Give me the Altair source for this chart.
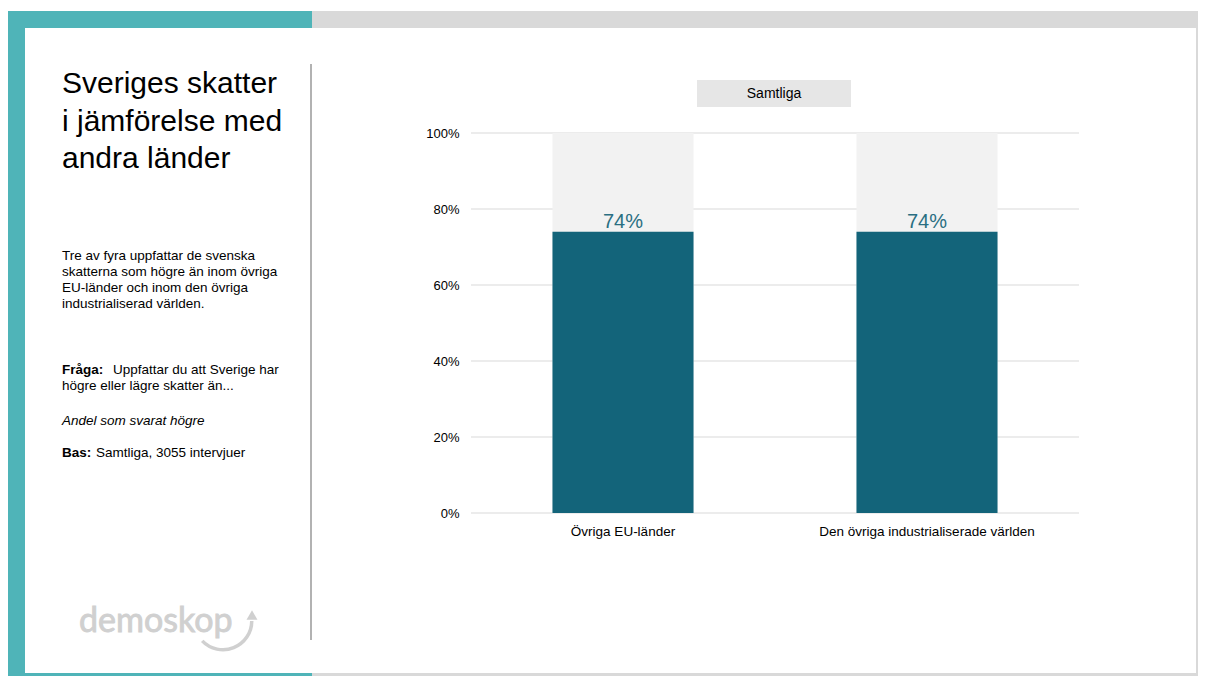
import altair as alt
import pandas as pd

# ---------------- data ----------------
categories = ["Övriga EU-länder", "Den övriga industrialiserade världen"]
values = [0.74, 0.74]
totals = [1.0, 1.0]
value_labels = ["74%", "74%"]
y_ticks = [0.0, 0.2, 0.4, 0.6, 0.8, 1.0]
panel_title = "Samtliga"

title_lines = ["Sveriges skatter", "i jämförelse med", "andra länder"]
body_lines = [
    "Tre av fyra uppfattar de svenska",
    "skatterna som högre än inom övriga",
    "EU-länder och inom den övriga",
    "industrialiserad världen.",
]
question_label = "Fråga:"
question_lines = ["Uppfattar du att Sverige har", "högre eller lägre skatter än..."]
share_text = "Andel som svarat högre"
base_label = "Bas:"
base_text = "Samtliga, 3055 intervjuer"
logo_text = "demoskop"

# ---------------- layout helpers (page px -> plot px) ----------------
PLOT_X0, PLOT_Y0 = 471, 133
PLOT_W, PLOT_H = 608, 380
CANVAS_W, CANVAS_H = 1190, 668


def px(x):
    return x - PLOT_X0


def py(y):
    return y - PLOT_Y0


FONT = "Liberation Sans"
one = pd.DataFrame({"d": [1]})

bars = pd.DataFrame({"kategori": categories, "andel": values, "total": totals, "etikett": value_labels})
ticks = pd.DataFrame({"t": y_ticks})


def rect(x1, x2, y1, y2, color):
    return alt.Chart(one).mark_rect(color=color).encode(
        x=alt.value(px(x1)), x2=alt.value(px(x2)), y=alt.value(py(y1)), y2=alt.value(py(y2))
    )


def text(x, y, t, size, **kw):
    return alt.Chart(one).mark_text(
        text=t, fontSize=size, font=kw.pop("font", FONT), align=kw.pop("align", "left"),
        baseline=kw.pop("baseline", "alphabetic"), **kw
    ).encode(x=alt.value(px(x)), y=alt.value(py(y)))


# frame
bg_grey = rect(7, 1206, 11, 684, "#d9d9d9")
bg_teal = rect(7, 312, 11, 684, "#4fb4b8")
bg_white = rect(25, 1196, 28, 673, "#ffffff")
separator = alt.Chart(one).mark_rule(color="#7f7f7f", strokeWidth=1.2).encode(
    x=alt.value(px(311)), y=alt.value(py(64)), y2=alt.value(py(640))
)

# panel header
header_box = rect(697, 851, 80, 107, "#e6e6e6")
header_txt = text(774, 94, panel_title, 14, align="center", baseline="middle", color="#000000")

# chart
xscale = alt.Scale(domain=categories, paddingInner=0.536, paddingOuter=0.268)
yscale = alt.Scale(domain=[0, 1])
xax = alt.Axis(title=None, labelAngle=0, labelFontSize=13.5, labelFont=FONT, labelColor="#000000",
               ticks=False, domain=False, labelPadding=11, labelLimit=500, zindex=1)
yax = alt.Axis(title=None, values=y_ticks, format=".0%", labelFontSize=13, labelFont=FONT,
               labelColor="#000000", ticks=False, domain=False, grid=False, labelPadding=12, zindex=1)

grid = alt.Chart(ticks).mark_rule(color="#d9d9d9", strokeWidth=1).encode(
    y=alt.Y("t:Q", scale=yscale, axis=yax)
)
back_bars = alt.Chart(bars).mark_bar(color="#f2f2f2").encode(
    x=alt.X("kategori:N", scale=xscale, axis=xax, sort=categories),
    y=alt.Y("total:Q", scale=yscale),
)
front_bars = alt.Chart(bars).mark_bar(color="#13647a").encode(
    x=alt.X("kategori:N", scale=xscale, sort=categories),
    y=alt.Y("andel:Q", scale=yscale),
)
labels = alt.Chart(bars).mark_text(fontSize=20, font=FONT, color="#2a6f82", baseline="alphabetic", dy=-4).encode(
    x=alt.X("kategori:N", scale=xscale, sort=categories),
    y=alt.Y("andel:Q", scale=yscale),
    text="etikett:N",
)

# left panel texts
title_t = text(62, 93, title_lines, 30, lineHeight=37.5, color="#000000")
body_t = text(62, 260, body_lines, 13.5, lineHeight=16, color="#000000")
q_label = text(62, 374, question_label, 13.5, fontWeight="bold", color="#000000")
q_text = text(113, 374, question_lines[0], 13.5, color="#000000")
q_text2 = text(62, 390, question_lines[1], 13.5, color="#000000")
share_t = text(62, 425, share_text, 13.5, fontStyle="italic", color="#000000")
base_l = text(62, 457, base_label, 13.5, fontWeight="bold", color="#000000")
base_t = text(96, 457, base_text, 13.5, color="#000000")

# logo
logo_t = text(79, 632, logo_text, 34, font="Lato", color="#d0d0d0", stroke="#d0d0d0", strokeWidth=0.9)
logo_arc = alt.Chart(one).mark_arc(innerRadius=27, outerRadius=30.5, color="#d0d0d0").encode(
    x=alt.value(px(223)), y=alt.value(py(621)), theta=alt.value(1.57), theta2=alt.value(3.95)
)
logo_head = alt.Chart(one).mark_point(shape="triangle-up", filled=True, size=120, color="#d0d0d0", opacity=1).encode(
    x=alt.value(px(252)), y=alt.value(py(615))
)

chart = alt.layer(
    bg_grey, bg_teal, bg_white, separator, header_box, header_txt,
    grid, back_bars, front_bars, labels,
    title_t, body_t, q_label, q_text, q_text2, share_t, base_l, base_t,
    logo_t, logo_arc, logo_head,
).properties(
    width=PLOT_W, height=PLOT_H,
    padding={"left": PLOT_X0 - 8, "top": PLOT_Y0 - 8,
             "right": CANVAS_W - (PLOT_X0 - 8) - PLOT_W,
             "bottom": CANVAS_H - (PLOT_Y0 - 8) - PLOT_H},
    autosize=alt.AutoSizeParams(type="none"),
).configure_view(stroke=None).configure(background="white")

chart.save("out.html", embed_options={"renderer": "svg", "actions": False})
